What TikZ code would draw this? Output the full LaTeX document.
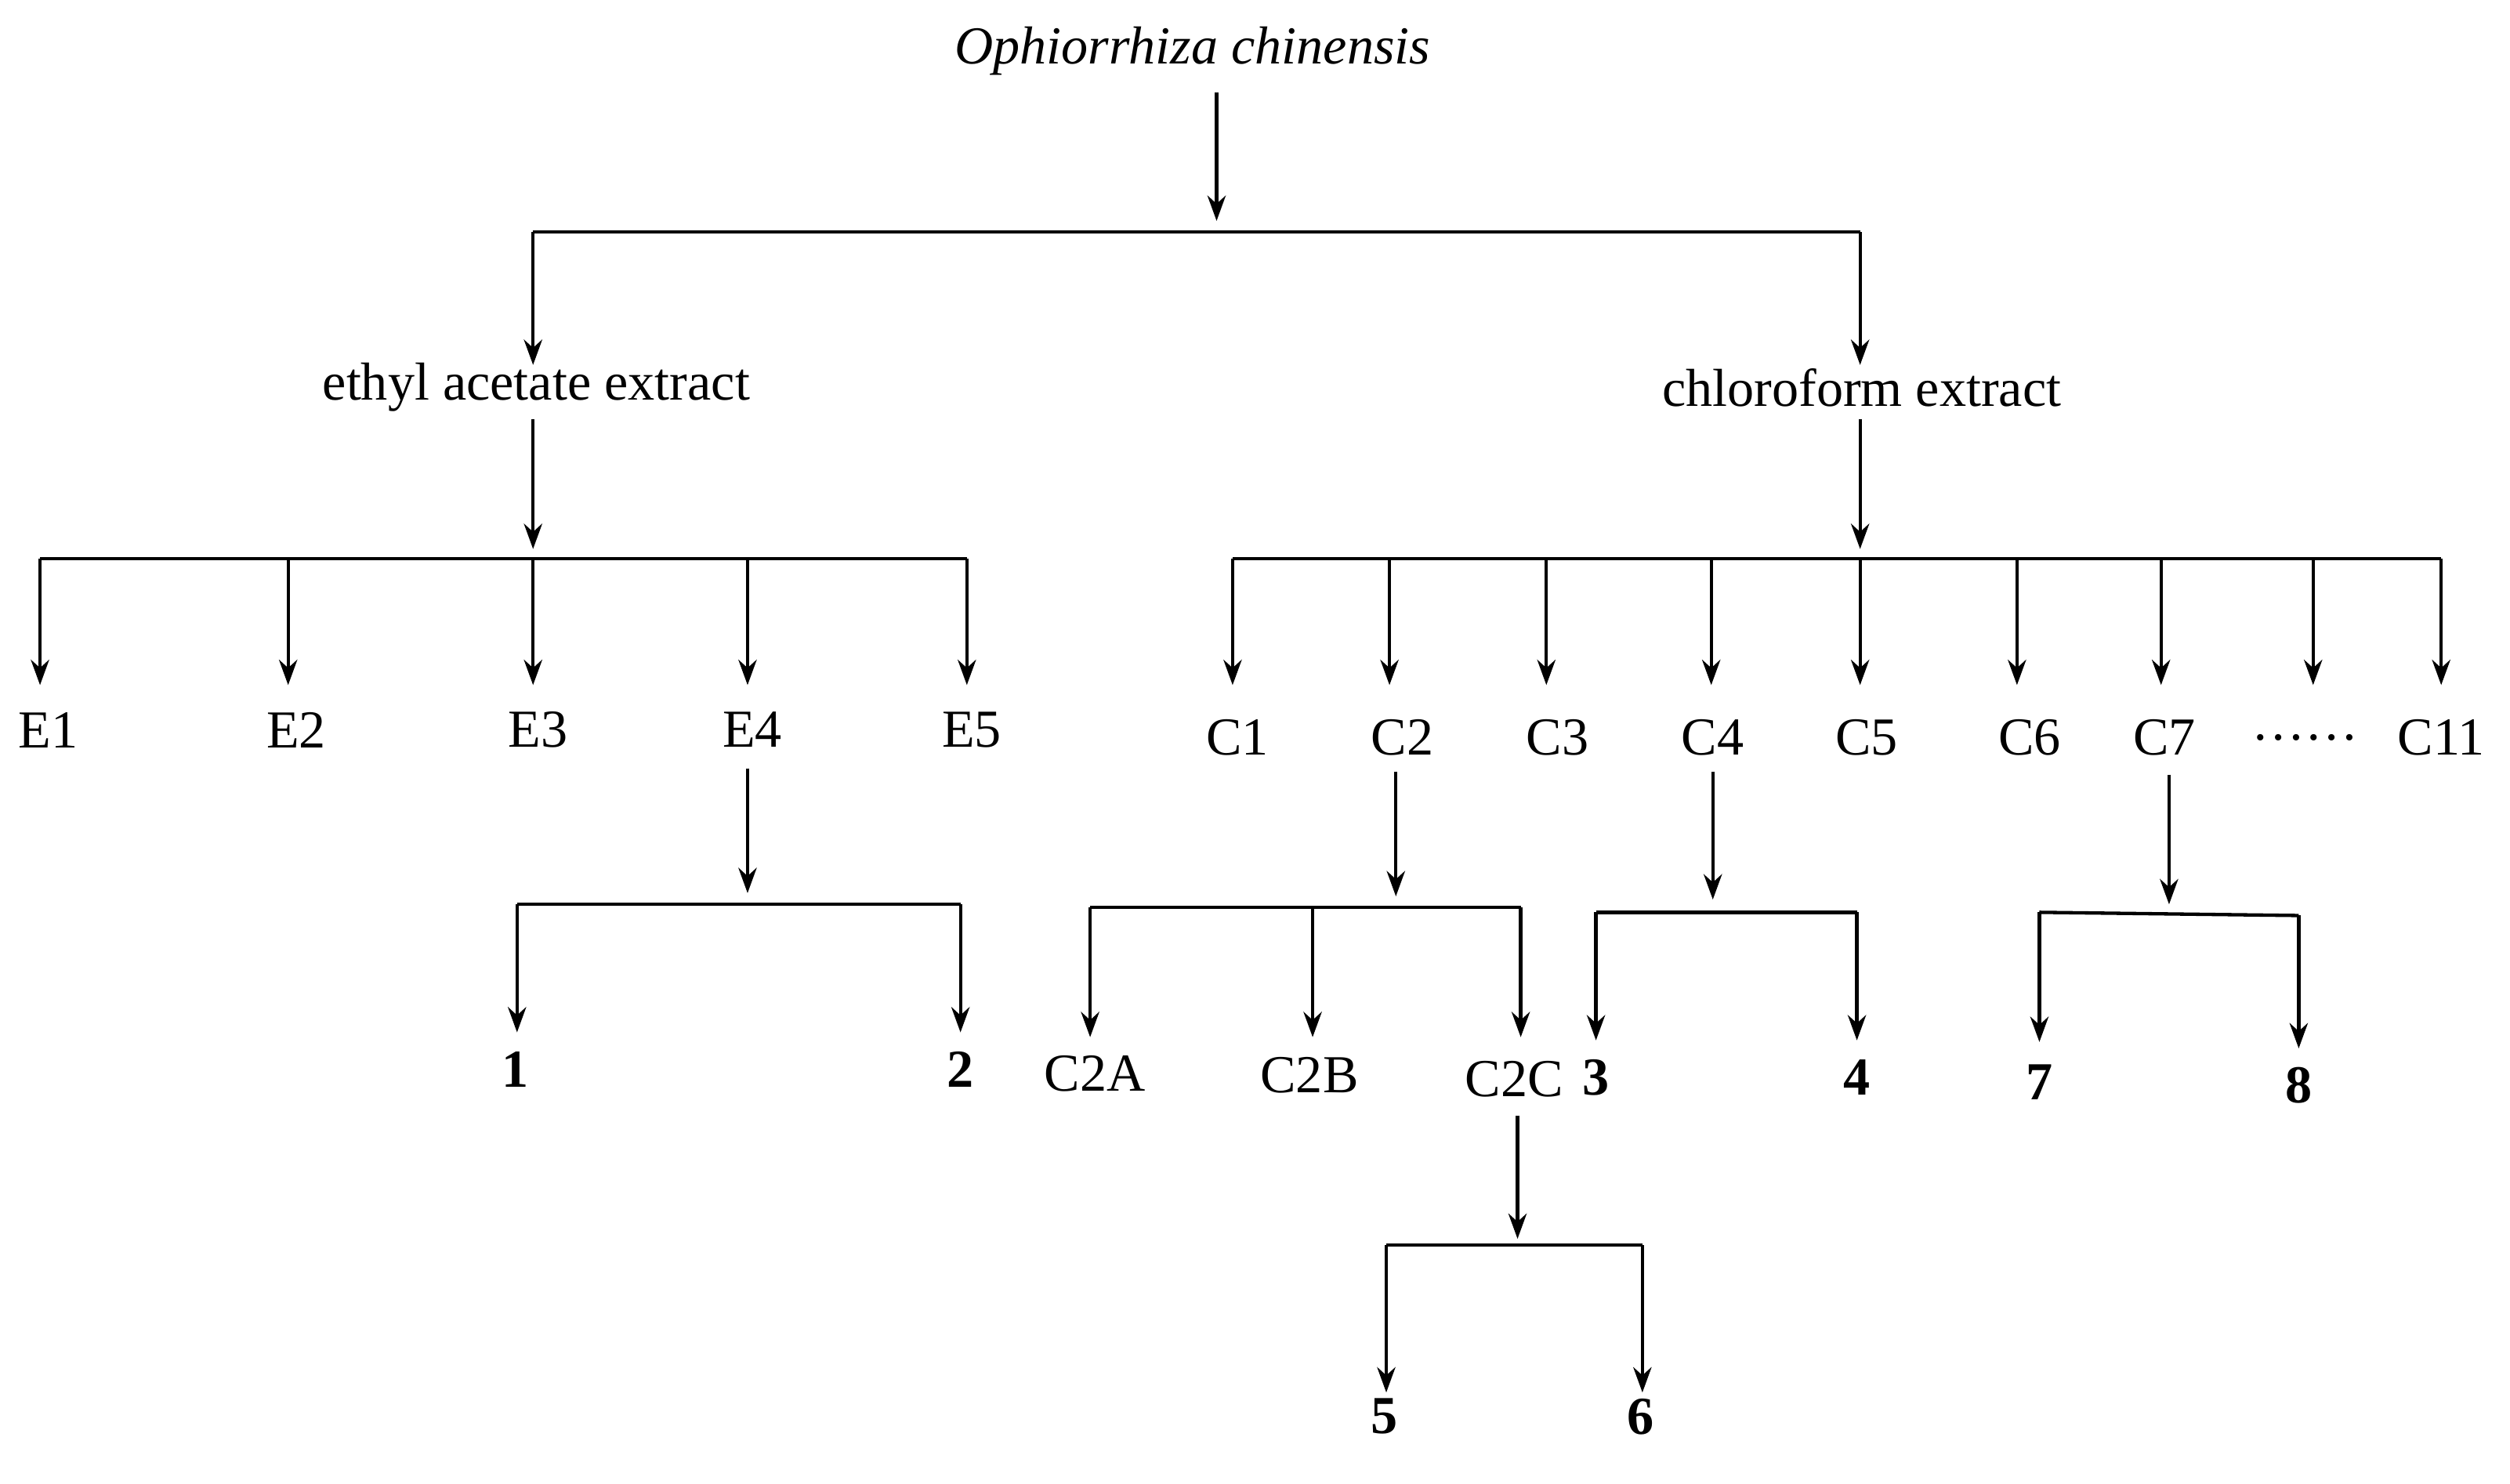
\documentclass[tikz,border=0pt]{standalone}
\usepackage{fontspec}
\setmainfont{Liberation Serif}
\usetikzlibrary{arrows.meta}
\begin{document}
\begin{tikzpicture}[x=0.02cm,y=-0.02cm,
  ln/.style={line width=1.2pt},
  ar/.style={ln,-{Stealth[length=9pt,width=6.5pt]}},
  lb/.style={font=\fontsize{19}{22}\selectfont,inner sep=0pt},
  bl/.style={lb,font=\fontsize{19}{22}\selectfont\bfseries}]
\useasboundingbox (0,0) rectangle (1568,927);
\node[lb,font=\fontsize{19}{22}\selectfont\itshape] (top) at (745,32) {Ophiorrhiza chinensis};
\coordinate (t1) at (760,58); \coordinate (t2) at (760,138);
\draw[ar] (t1) -- (t2);
\coordinate (bL) at (333,145); \coordinate (bR) at (1162,145);
\draw[ln] (bL) -- (bR);
\node[lb] (ea) at (335,242) {ethyl acetate extract};
\node[lb] (cf) at (1163,242) {chloroform extract};
\draw[ar] (bL) -- (333,228);
\draw[ar] (bR) -- (1162,228);
% ethyl acetate
\draw[ar] (333,262) -- (333,343);
\draw[ln] (25,349) -- (604,349);
\foreach \x/\t/\lx in {25/E1/30,180/E2/185,333/E3/336,467/E4/470,604/E5/607}{
  \draw[ar] (\x,349) -- (\x,428);
  \node[lb] (n\t) at (\lx,456) {\t};}
% chloroform
\draw[ar] (1162,262) -- (1162,343);
\draw[ln] (770,349) -- (1525,349);
\foreach \x in {770,868,966,1069,1162,1260,1350,1445,1525}{\draw[ar] (\x,349) -- (\x,428);}
\foreach \t/\lx in {C1/773,C2/876,C3/973,C4/1070,C5/1166,C6/1268,C7/1352,C11/1525}{
  \node[lb] (n\t) at (\lx,461) {\t};}
\node[lb] (dots) at (1440,461) {……};
% E4
\draw[ar] (467,480) -- (467,558);
\draw[ln] (323,565) -- (600,565);
\draw[ar] (323,565) -- (323,645);
\draw[ar] (600,565) -- (600,645);
\node[bl] (c1) at (322,668) {1};
\node[bl] (c2) at (600,668) {2};
% C2
\draw[ar] (872,482) -- (872,560);
\draw[ln] (681,567) -- (950,567);
\foreach \x in {681,820,950}{\draw[ar] (\x,567) -- (\x,648);}
\node[lb] (nC2A) at (684,671) {C2A};
\node[lb] (nC2B) at (818,672) {C2B};
\node[lb] (nC2C) at (946,674) {C2C};
% C4
\draw[ar] (1070,482) -- (1070,562);
\draw[ln] (997,570) -- (1160,570);
\draw[ar] (997,570) -- (997,650);
\draw[ar] (1160,570) -- (1160,650);
\node[bl] (c3) at (997,673) {3};
\node[bl] (c4) at (1160,673) {4};
% C7
\draw[ar] (1355,484) -- (1355,565);
\draw[ln] (1274,570) -- (1436,572);
\draw[ar] (1274,570) -- (1274,651);
\draw[ar] (1436,572) -- (1436,655);
\node[bl] (c7) at (1274,676) {7};
\node[bl] (c8) at (1436,678) {8};
% C2C
\draw[ar] (948,697) -- (948,774);
\draw[ln] (866,778) -- (1026,778);
\draw[ar] (866,778) -- (866,870);
\draw[ar] (1026,778) -- (1026,870);
\node[bl] (c5) at (865,885) {5};
\node[bl] (c6) at (1025,885) {6};
\end{tikzpicture}
\end{document}
